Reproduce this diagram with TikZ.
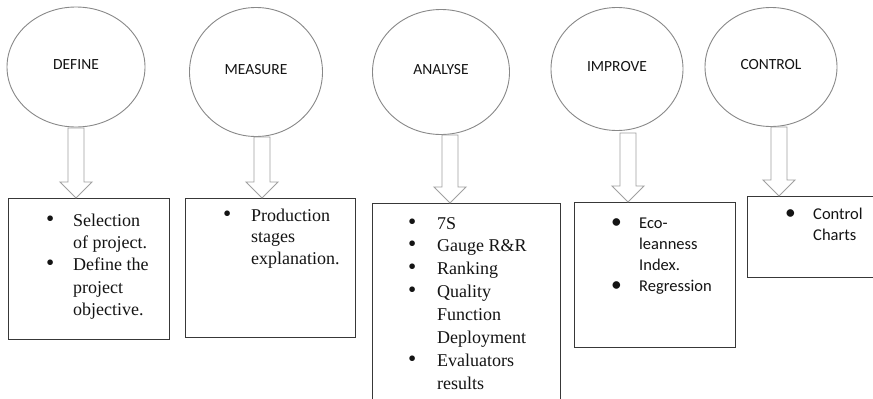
\documentclass[tikz,border=0pt]{standalone}
\usepackage{fontspec}
\setmainfont{Liberation Serif}
\newfontfamily\calibfont{Carlito}
\usetikzlibrary{shapes.geometric,calc}

\definecolor{ringgray}{HTML}{888888}
\definecolor{arrowgray}{HTML}{A0A0A0}
\definecolor{boxline}{HTML}{383838}
\definecolor{ink}{HTML}{141414}

\tikzset{
  phase/.style={ellipse, draw=ringgray, line width=0.9pt, inner sep=0pt,
    text=ink, font=\calibfont\fontsize{15.5}{18}\selectfont},
  fatarrow/.style={draw=arrowgray, line width=0.9pt, line join=miter,
    to path={let \p1=(\tikztostart), \p2=(\tikztotarget) in
      (\x1-8pt,\y1) -- (\x1+8pt,\y1) -- (\x1+8pt,\y2+16pt) --
      (\x1+16pt,\y2+16pt) -- (\x1,\y2) -- (\x1-16pt,\y2+16pt) --
      (\x1-8pt,\y2+16pt) -- cycle}},
  stepbox/.style={draw=boxline, line width=1.3pt, inner sep=0pt, anchor=north west},
  seriflist/.style={inner sep=0pt, anchor=base west, text=ink,
    font=\fontsize{18}{#1}\selectfont},
  sanslist/.style={inner sep=0pt, anchor=base west, text=ink,
    font=\calibfont\fontsize{16.5}{#1}\selectfont},
}
\newcommand\lbl[1]{\raisebox{5pt}{#1}}
\newcommand\bul{\smash{\raisebox{0pt}{\scalebox{1.3}{\textbullet}}}}

\begin{document}
\begin{tikzpicture}[x=1pt, y=-1pt]
  \useasboundingbox (0,0) rectangle (873,399);
  \fill[white] (0,0) rectangle (873,399);
  \clip (0,0) rectangle (873,399);

  % the five DMAIC phases
  \node[phase, minimum width=138pt, minimum height=120pt] (d) at (76,67)  {\lbl{DEFINE}};
  \node[phase, minimum width=133pt, minimum height=129pt] (m) at (256,72) {\lbl{MEASURE}};
  \node[phase, minimum width=137pt, minimum height=125pt] (a) at (441,72) {\lbl{ANALYSE}};
  \node[phase, minimum width=132pt, minimum height=123pt] (i) at (617,69) {\lbl{IMPROVE}};
  \node[phase, minimum width=132pt, minimum height=119pt] (c) at (771,67) {\lbl{CONTROL}};

  % boxes listing the work of each phase
  \node[stepbox, minimum width=161pt, minimum height=141pt] (db) at (8,198)   {};
  \node[stepbox, minimum width=170pt, minimum height=139pt] (mb) at (185,198) {};
  \node[stepbox, minimum width=188pt, minimum height=220pt] (ab) at (372,203) {};
  \node[stepbox, minimum width=161pt, minimum height=145pt] (ib) at (574,202) {};
  \node[stepbox, minimum width=150pt, minimum height=81pt]  (cb) at (747,196) {};

  % start points of the block arrows
  \coordinate (da) at (76,128);
  \coordinate (ma) at (262,137);
  \coordinate (aa) at (450,135);
  \coordinate (ia) at (628,133);
  \coordinate (ca) at (779,127);

  \draw[fatarrow] (da) to (da |- db.north);
  \draw[fatarrow] (ma) to (ma |- mb.north);
  \draw[fatarrow] (aa) to (aa |- ab.north);
  \draw[fatarrow] (ia) to (ia |- ib.north);
  \draw[fatarrow] (ca) to (ca |- cb.north);

  % list contents
  \node[seriflist=22.4] (dt) at (46,226) {\begin{tabular}[t]{@{}p{27pt}@{}l@{}}
    \bul & Selection\\ & of project.\\ \bul & Define the\\ & project\\ & objective.\end{tabular}};
  \node[seriflist=21.5] (mt) at (223,221) {\begin{tabular}[t]{@{}p{28pt}@{}l@{}}
    \bul & Production\\ & stages\\ & explanation.\end{tabular}};
  \node[seriflist=22.9] (at) at (408,229) {\begin{tabular}[t]{@{}p{29pt}@{}l@{}}
    \bul & 7S\\ \bul & Gauge R\&R\\ \bul & Ranking\\ \bul & Quality\\
    & Function\\ & Deployment\\ \bul & Evaluators\\ & results\end{tabular}};
  \node[sanslist=21] (it) at (611,228) {\begin{tabular}[t]{@{}p{28pt}@{}l@{}}
    \bul & Eco-\\ & leanness\\ & Index.\\ \bul & Regression\end{tabular}};
  \node[sanslist=21] (ct) at (785,219) {\begin{tabular}[t]{@{}p{28pt}@{}l@{}}
    \bul & Control\\ & Charts\end{tabular}};
\end{tikzpicture}
\end{document}
